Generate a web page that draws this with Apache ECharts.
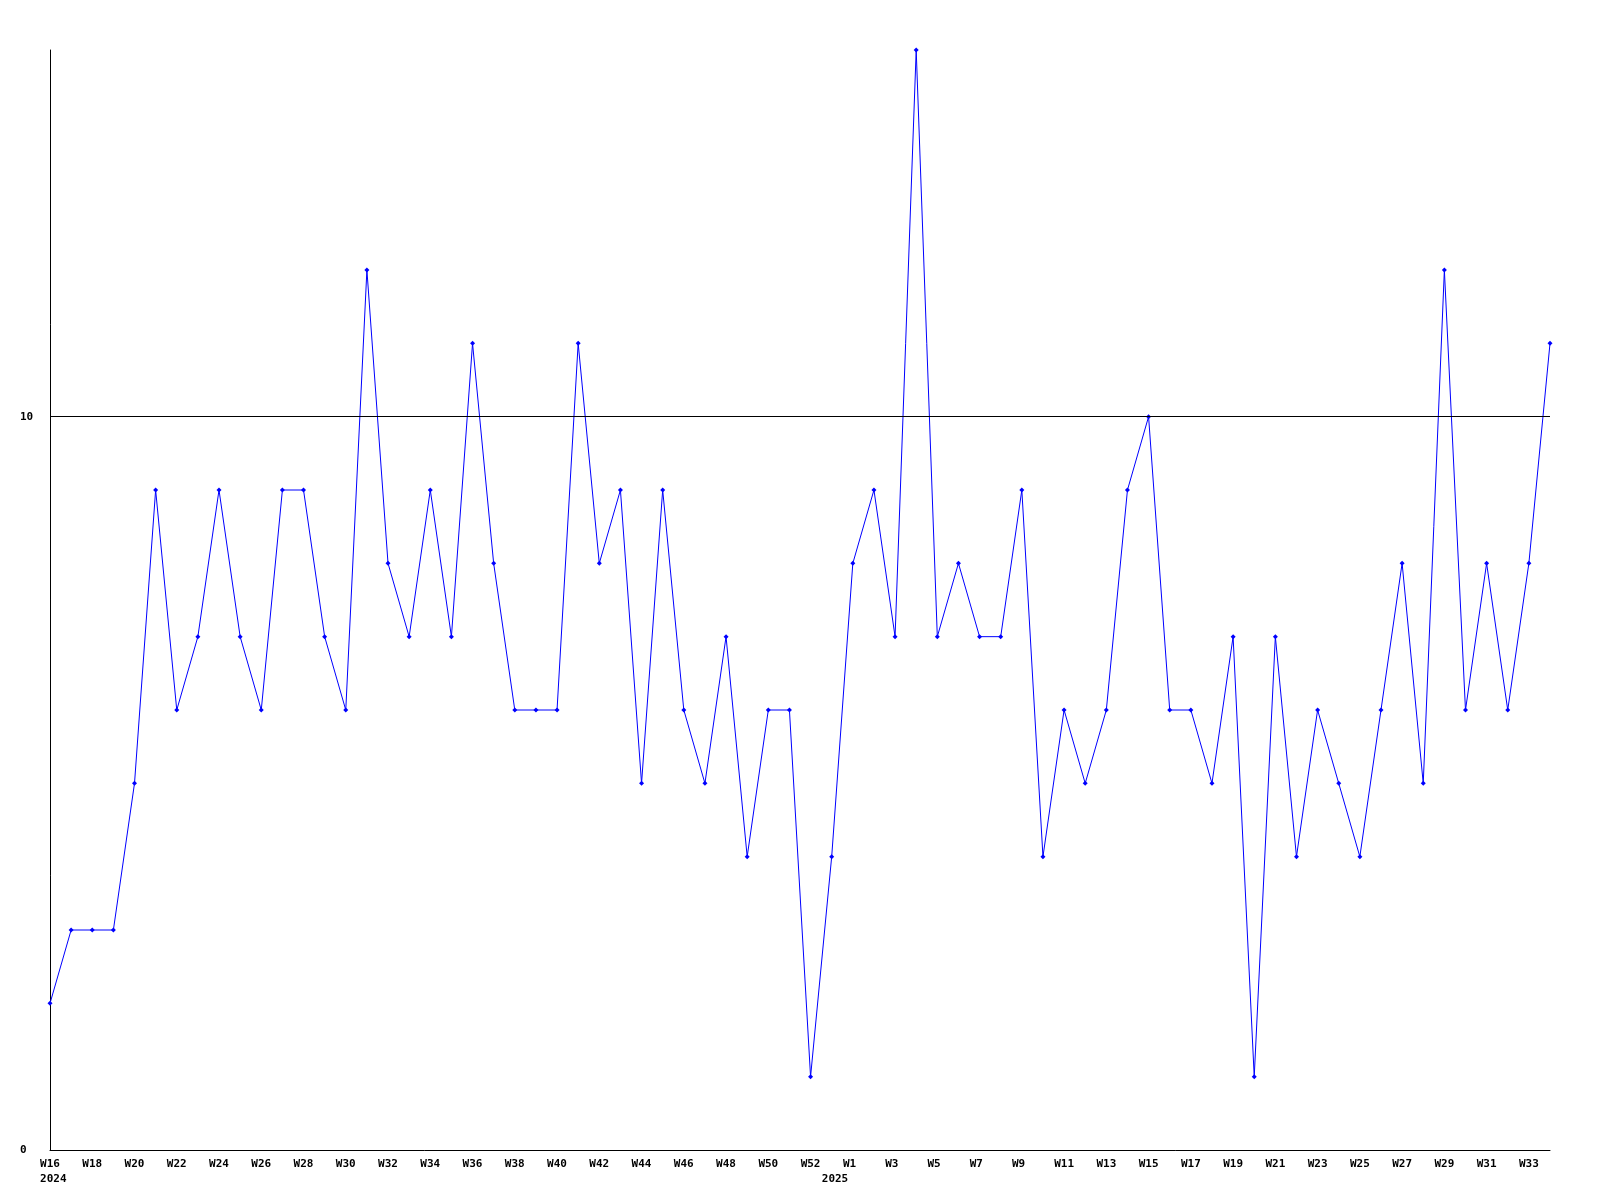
<!DOCTYPE html>
<html>
<head>
<meta charset="utf-8">
<script src="https://cdn.jsdelivr.net/npm/echarts@6/dist/echarts.min.js"></script>
<style>html,body{margin:0;padding:0;background:#fff;}#chart{width:1600px;height:1200px;}</style>
</head>
<body>
<div id="chart"></div>
<script>
const weeks = [
  'W16','W17','W18','W19','W20','W21','W22','W23','W24','W25','W26','W27','W28','W29','W30',
  'W31','W32','W33','W34','W35','W36','W37','W38','W39','W40','W41','W42','W43','W44','W45',
  'W46','W47','W48','W49','W50','W51','W52','W53',
  'W1','W2','W3','W4','W5','W6','W7','W8','W9','W10','W11','W12','W13','W14','W15','W16',
  'W17','W18','W19','W20','W21','W22','W23','W24','W25','W26','W27','W28','W29','W30','W31',
  'W32','W33','W34'
];
const yearLabels = { 0: '2024', 37: '2025' };
const values = [
  2,3,3,3,5,9,6,7,9,7,6,9,9,7,6,
  12,8,7,9,7,11,8,6,6,6,11,8,9,5,9,
  6,5,7,4,6,6,1,4,
  8,9,7,15,7,8,7,7,9,4,6,5,6,9,10,6,
  6,5,7,1,7,4,6,5,4,6,8,5,12,6,8,
  6,8,11
];
const yTickLabels = [0, 10];
const refLine = 10;

const chart = echarts.init(document.getElementById('chart'));
const font = 'DejaVu Sans Mono';
chart.setOption({
  animation: false,
  backgroundColor: '#ffffff',
  grid: { left: 50, right: 50, top: 50, bottom: 50 },
  xAxis: {
    type: 'category',
    data: weeks,
    boundaryGap: false,
    axisLine: { lineStyle: { color: '#000', width: 1 } },
    axisTick: { show: false },
    splitLine: { show: false },
    axisLabel: {
      interval: 0,
      margin: 7,
      color: '#000',
      fontFamily: font,
      fontWeight: 'bold',
      fontSize: 11,
      lineHeight: 15,
      align: 'center',
      formatter: function (v, i) {
        let top = '';
        // labels every other week among named weeks (skip the extra point)
        const pos = i <= 37 ? i : i - 38;
        if (i !== 37 && pos % 2 === 0) {
          top = v.length < 3 ? v + ' ' : v;
        }
        const yr = yearLabels[i];
        if (yr) return top + '\n ' + yr;
        return top;
      }
    }
  },
  yAxis: {
    type: 'value',
    min: 0,
    max: 15,
    interval: 5,
    axisLine: { show: true, lineStyle: { color: '#000', width: 1 } },
    axisTick: { show: false },
    splitLine: { show: false },
    axisLabel: {
      customValues: yTickLabels,
      align: 'left',
      margin: 30,
      color: '#000',
      fontFamily: font,
      fontWeight: 'bold',
      fontSize: 11
    }
  },
  series: [{
    type: 'line',
    data: values,
    symbol: 'diamond',
    symbolSize: 5,
    showSymbol: true,
    lineStyle: { color: '#0000ff', width: 1 },
    itemStyle: { color: '#0000ff' },
    clip: false,
    markLine: {
      silent: true,
      symbol: 'none',
      label: { show: false },
      lineStyle: { color: '#000', width: 1, type: 'solid' },
      data: [{ yAxis: refLine }]
    }
  }]
});
</script>
</body>
</html>
